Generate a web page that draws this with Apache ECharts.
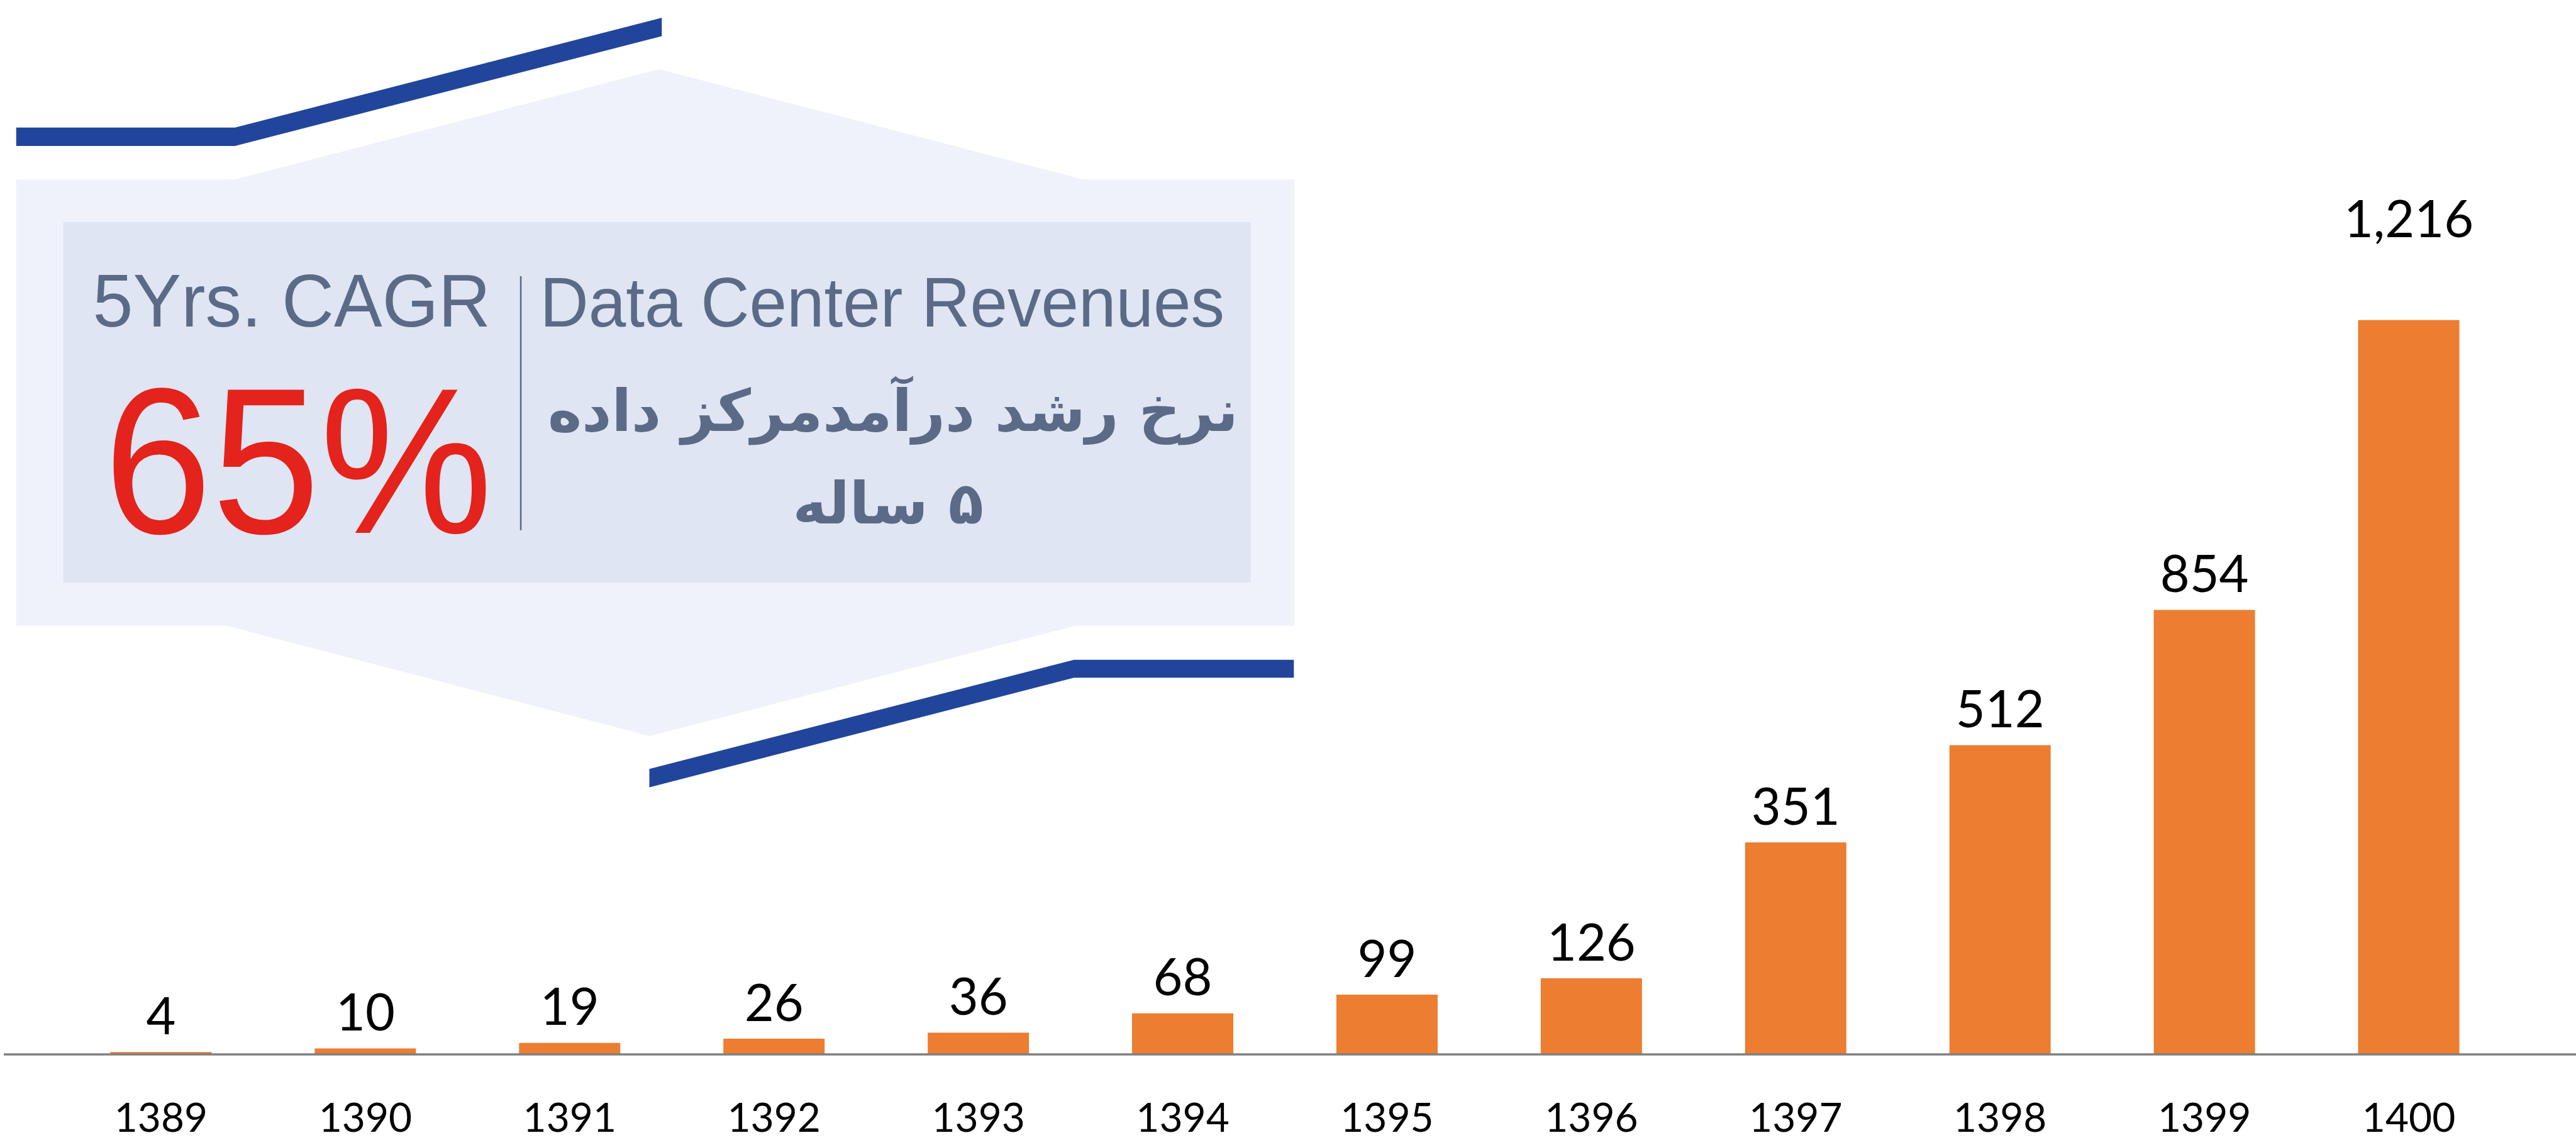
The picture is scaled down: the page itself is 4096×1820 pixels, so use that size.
<!DOCTYPE html>
<html>
<head>
<meta charset="utf-8">
<title>Data Center Revenues</title>
<script src="https://cdn.jsdelivr.net/npm/echarts@6/dist/echarts.min.js"></script>
<style>
  html, body { margin: 0; padding: 0; background: #fff; }
  #chart { width: 4096px; height: 1820px; }
</style>
</head>
<body>
<div id="chart"></div>
<script>
// categories (Persian calendar years)
const years = ['1389', '1390', '1391', '1392', '1393', '1394', '1395', '1396', '1397', '1398', '1399', '1400'];
// bar heights (the 1399 bar is drawn shorter than its printed 854)
const revenue = [4, 10, 19, 26, 36, 68, 99, 126, 351, 512, 736, 1216];
// printed value labels
const valueLabels = ['4', '10', '19', '26', '36', '68', '99', '126', '351', '512', '854', '1,216'];

// callout texts
const cagrTitle = '5Yrs. CAGR';
const cagrValue = '65%';
const titleEn = 'Data Center Revenues';
const titleFa = ['نرخ رشد درآمدمرکز داده', '\u200F۵ ساله'];

const K = 0.859; // reference -> window scale
const ORANGE = '#ED7D31';
const NAVY = '#21459b';
const SLATE = '#5b6a87';

// extra lift for labels that sit higher than the rest
const labelLift = { '1400': 103 };

const chart = echarts.init(document.getElementById('chart'));

chart.setOption({
  backgroundColor: '#fff',
  animation: false,
  grid: { left: 93.5, right: 103.5, top: 332, bottom: 144 },
  xAxis: {
    type: 'category',
    data: years,
    axisLine: { show: false },
    axisTick: { show: false },
    axisLabel: {
      color: '#000',
      fontFamily: 'Lato',
      fontSize: 64,
      lineHeight: 64,
      margin: 70
    }
  },
  yAxis: {
    type: 'value',
    min: 0,
    max: 1400,
    show: false,
    splitLine: { show: false }
  },
  series: [{
    type: 'bar',
    barWidth: 161,
    itemStyle: { color: ORANGE },
    label: {
      show: true,
      position: 'top',
      distance: 14,
      color: '#000',
      fontFamily: 'Lato',
      fontSize: 81,
      lineHeight: 81
    },
    data: revenue.map((v, i) => ({
      value: v,
      label: {
        formatter: valueLabels[i],
        offset: [0, -(labelLift[years[i]] || 0)]
      }
    }))
  }]
});

// decorative callout, drawn in reference coordinates and scaled
const pts = arr => arr.map(([x, y]) => [x * K, y * K]);
const y0 = chart.convertToPixel({ yAxisIndex: 0 }, 0);

const text = (str, x, y, font, fill, sy) => ({
  type: 'text',
  x: x * K,
  y: y * K,
  scaleY: sy || 1,
  style: {
    text: str, x: 0, y: 0, font: font, fill: fill,
    align: 'center', verticalAlign: 'middle',
    textAlign: 'center', textVerticalAlign: 'middle'
  }
});

chart.setOption({
  graphic: [
    // baseline across the whole width
    {
      type: 'line', z: 10,
      shape: { x1: 7 * K, y1: y0, x2: 4096, y2: y0 },
      style: { stroke: '#808080', lineWidth: 3.5 }
    },
    // pale outer panel with peaked top and bottom
    {
      type: 'polygon',
      shape: { points: pts([[30, 332], [435, 332], [1220, 128], [2005, 332], [2396, 332],
        [2396, 1158], [1990, 1158], [1203, 1362], [420, 1158], [30, 1158]]) },
      style: { fill: '#eff2fa' }
    },
    // inner box
    {
      type: 'rect',
      shape: { x: 117 * K, y: 411 * K, width: 2198 * K, height: 667 * K },
      style: { fill: '#dfe5f2' }
    },
    // top blue bar
    {
      type: 'polygon',
      shape: { points: pts([[30, 236], [435, 236], [1225, 33], [1225, 67], [435, 270], [30, 270]]) },
      style: { fill: NAVY }
    },
    // bottom blue bar
    {
      type: 'polygon',
      shape: { points: pts([[1202, 1423], [1988, 1221], [2395, 1221], [2395, 1254], [1988, 1254], [1202, 1457]]) },
      style: { fill: NAVY }
    },
    // divider
    {
      type: 'line',
      shape: { x1: 964 * K, y1: 511 * K, x2: 964 * K, y2: 981 * K },
      style: { stroke: SLATE, lineWidth: 2.6 }
    },
    text(cagrTitle, 540, 566, 'normal 115px "Liberation Sans"', SLATE, 1.04),
    text(cagrValue, 552, 880, 'normal 309px "Liberation Sans"', '#e3231c', 1.07),
    text(titleEn, 1633, 569, 'normal 107px "Liberation Sans"', SLATE, 1.04),
    text(titleFa[0], 1653, 770, 'bold 92px "DejaVu Sans"', SLATE),
    text(titleFa[1], 1644, 941, 'bold 92px "DejaVu Sans"', SLATE)
  ]
});
</script>
</body>
</html>
